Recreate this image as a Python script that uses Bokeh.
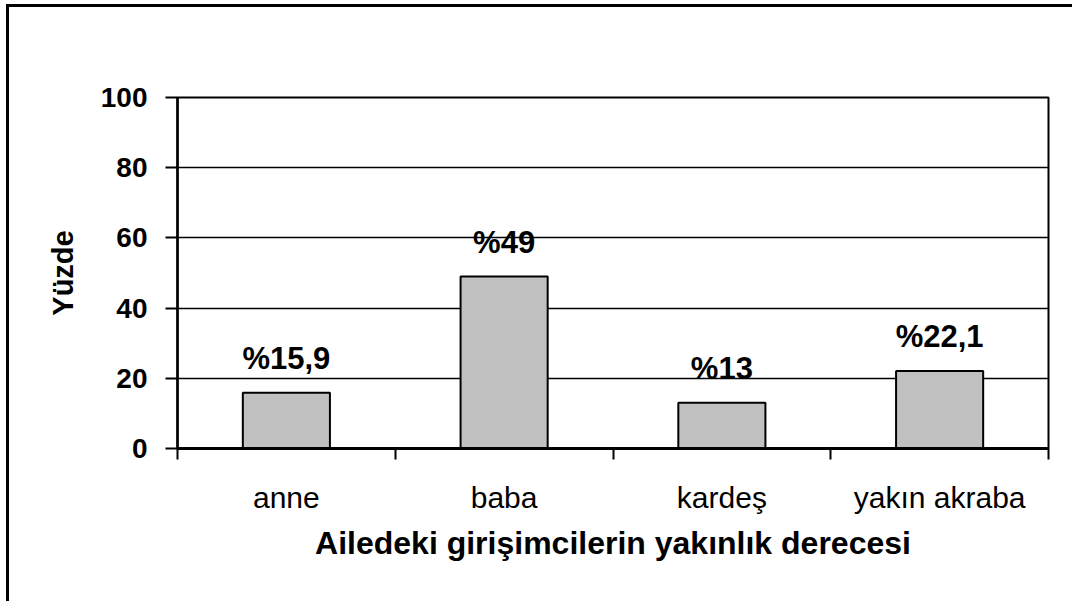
from bokeh.plotting import figure
from bokeh.models import FixedTicker, Range1d, InlineStyleSheet
from bokeh.core.properties import value
from bokeh.embed import file_html
from bokeh.resources import INLINE

categories = ["anne", "baba", "kardeş", "yakın akraba"]
values = [15.9, 49, 13, 22.1]
y_ticks = [0, 20, 40, 60, 80, 100]
x_title = "Ailedeki girişimcilerin yakınlık derecesi"
y_title = "Yüzde"

xs = [i + 0.5 for i in range(len(categories))]
bounds = list(range(len(categories) + 1))
labels = ["%" + f"{v:g}".replace(".", ",") for v in values]

FONT = "Liberation Sans"

p = figure(width=1050, height=597, x_range=Range1d(0, len(categories)),
           y_range=Range1d(0, 100), output_backend="svg", toolbar_location=None,
           min_border_left=168, min_border_right=11, min_border_top=90,
           min_border_bottom=156)
p.margin = (7, 0, 0, 9)
p.styles = {"box-shadow": "-3px -3px 0px 0px black"}
p.stylesheets = [InlineStyleSheet(css=(
    ":host::before { content: ''; position: absolute; left: -3px; top: -3px; "
    "width: 1066px; height: 3px; background: black; z-index: 5; }"))]

p.vbar(x=xs, top=values, width=0.4, fill_color="#C0C0C0", line_color="black", line_width=2)
p.text(x=xs, y=values, text=labels, text_align="center", text_baseline="bottom",
       y_offset=-17, text_font=value(FONT), text_font_style="bold",
       text_font_size="31px", text_color="black")

p.xgrid.visible = False
p.ygrid.ticker = FixedTicker(ticks=y_ticks)
p.ygrid.grid_line_color = "black"
p.ygrid.grid_line_width = 1.5
p.outline_line_color = "black"
p.outline_line_width = 2

ya = p.yaxis[0]
ya.ticker = FixedTicker(ticks=y_ticks)
ya.major_tick_out = 12
ya.major_tick_in = 0
ya.minor_tick_out = 0
ya.minor_tick_in = 0
ya.axis_line_width = 2.5
ya.axis_line_color = "black"
ya.major_tick_line_width = 2
ya.major_tick_line_color = "black"
ya.major_label_text_font = FONT
ya.major_label_text_font_style = "bold"
ya.major_label_text_font_size = "28px"
ya.major_label_text_color = "black"
ya.major_label_standoff = 18
ya.axis_label = y_title
ya.axis_label_text_font = FONT
ya.axis_label_text_font_style = "bold"
ya.axis_label_text_font_size = "29px"
ya.axis_label_text_color = "black"
ya.axis_label_standoff = 19

xa = p.xaxis[0]
xa.ticker = FixedTicker(ticks=xs, minor_ticks=bounds)
xa.major_label_overrides = {x: c for x, c in zip(xs, categories)}
xa.major_tick_out = 0
xa.major_tick_in = 0
xa.minor_tick_out = 11
xa.minor_tick_in = 0
xa.minor_tick_line_width = 2
xa.minor_tick_line_color = "black"
xa.axis_line_width = 3
xa.axis_line_color = "black"
xa.major_label_text_font = FONT
xa.major_label_text_font_size = "30px"
xa.major_label_text_color = "black"
xa.major_label_standoff = 21
xa.axis_label = x_title
xa.axis_label_text_font = FONT
xa.axis_label_text_font_style = "bold"
xa.axis_label_text_font_size = "32px"
xa.axis_label_text_color = "black"
xa.axis_label_standoff = 8

open("out.html", "w").write(file_html(p, INLINE))
